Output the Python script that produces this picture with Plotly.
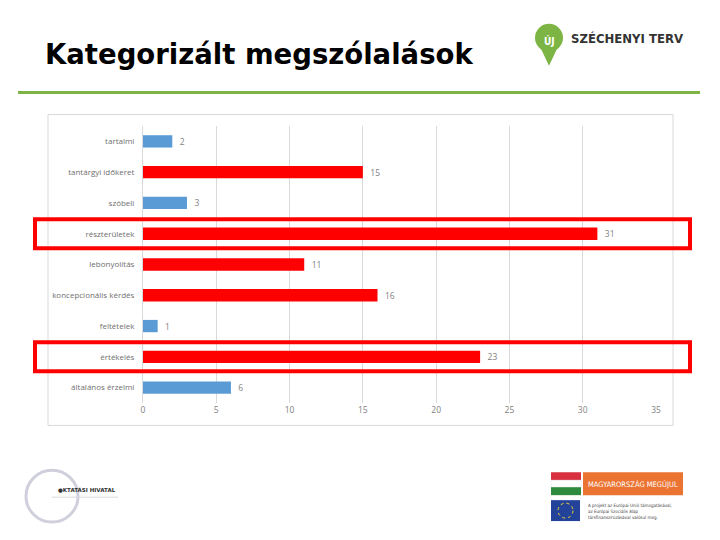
import plotly.graph_objects as go

categories = ["tartalmi", "tantárgyi időkeret", "szóbeli", "részterületek", "lebonyolítás",
              "koncepcionális kérdés", "feltételek", "értékelés", "általános érzelmi"]
values = [2, 15, 3, 31, 11, 16, 1, 23, 6]
highlight = [False, True, False, True, True, True, False, True, False]
boxed = ["részterületek", "értékelés"]
x_ticks = [0, 5, 10, 15, 20, 25, 30, 35]

BLUE = "#5B9BD5"
RED = "#FF0000"
colors = [RED if h else BLUE for h in highlight]

W, H = 720, 540
OFF = 8  # page body margin
L, R = 143 - OFF, 656 - OFF
T, B = 125.5 - OFF, 403.5 - OFF

def px(x):
    return (x - OFF - L) / (R - L)

def py(y):
    return (B - (y - OFF)) / (B - T)

fig = go.Figure()
fig.add_trace(go.Bar(
    y=categories, x=values, orientation="h",
    marker=dict(color=colors, line=dict(width=0)),
    width=0.4,
    text=["  " + str(v) for v in values], textposition="outside",
    textfont=dict(family="Open Sans", size=8.5, color="#7f7f7f"),
    cliponaxis=False, hoverinfo="skip",
))

shapes = []
shapes.append(dict(type="rect", xref="paper", yref="paper", x0=px(48), x1=px(673), y0=py(114), y1=py(426),
                   line=dict(color="#d9d9d9", width=1), layer="below"))
shapes.append(dict(type="line", xref="paper", yref="paper", x0=px(18), x1=px(700), y0=py(92), y1=py(92),
                   line=dict(color="#7DB544", width=3)))
for c in boxed:
    i = categories.index(c)
    shapes.append(dict(type="rect", xref="paper", yref="y", x0=px(35), x1=px(690), y0=i - 0.47, y1=i + 0.47,
                       line=dict(color=RED, width=4)))
# Széchenyi logo pin
shapes.append(dict(type="path", xref="paper", yref="paper",
                   path=f"M {px(540)} {py(46)} L {px(558)} {py(46)} L {px(549)} {py(65)} Z",
                   fillcolor="#7DB544", line=dict(width=0)))
shapes.append(dict(type="circle", xref="paper", yref="paper", x0=px(535), x1=px(563), y0=py(23), y1=py(51),
                   fillcolor="#7DB544", line=dict(width=0)))
# Oktatási Hivatal logo
shapes.append(dict(type="circle", xref="paper", yref="paper", x0=px(26), x1=px(78), y0=py(471), y1=py(523),
                   line=dict(color="#d0d0dc", width=3)))
shapes.append(dict(type="line", xref="paper", yref="paper", x0=px(52), x1=px(118), y0=py(498), y1=py(498),
                   line=dict(color="#d8d8e0", width=1)))
# Hungarian flag + orange box
shapes.append(dict(type="rect", xref="paper", yref="paper", x0=px(551), x1=px(581), y0=py(481), y1=py(473),
                   fillcolor="#D8303F", line=dict(width=0)))
shapes.append(dict(type="rect", xref="paper", yref="paper", x0=px(551), x1=px(581), y0=py(488), y1=py(481),
                   fillcolor="#ffffff", line=dict(color="#e0e0e0", width=0.5)))
shapes.append(dict(type="rect", xref="paper", yref="paper", x0=px(551), x1=px(581), y0=py(496), y1=py(488),
                   fillcolor="#2E8B3E", line=dict(width=0)))
shapes.append(dict(type="rect", xref="paper", yref="paper", x0=px(583), x1=px(683), y0=py(496), y1=py(473),
                   fillcolor="#EC7432", line=dict(width=0)))
# EU flag
shapes.append(dict(type="rect", xref="paper", yref="paper", x0=px(551), x1=px(580), y0=py(522), y1=py(501),
                   fillcolor="#23439A", line=dict(width=0)))
shapes.append(dict(type="circle", xref="paper", yref="paper", x0=px(558), x1=px(573), y0=py(504), y1=py(519),
                   line=dict(color="#F2D230", width=1, dash="dot")))

annotations = [
    dict(text="<b>Kategorizált megszólalások</b>", xref="paper", yref="paper", x=px(43), y=py(53),
         xanchor="left", yanchor="middle", showarrow=False,
         font=dict(family="DejaVu Sans", size=27.5, color="#000000")),
    dict(text="<b>ÚJ</b>", xref="paper", yref="paper", x=px(549), y=py(40), xanchor="center", yanchor="middle",
         showarrow=False, font=dict(family="DejaVu Sans Condensed", size=10, color="#ffffff")),
    dict(text="<b>SZÉCHENYI TERV</b>", xref="paper", yref="paper", x=px(569), y=py(38),
         xanchor="left", yanchor="middle", showarrow=False,
         font=dict(family="DejaVu Sans Condensed", size=13, color="#333333")),
    dict(text="<b>●KTATÁSI HIVATAL</b>", xref="paper", yref="paper", x=px(56), y=py(490),
         xanchor="left", yanchor="middle", showarrow=False,
         font=dict(family="DejaVu Sans", size=5.5, color="#333333")),
    dict(text="MAGYARORSZÁG MEGÚJUL", xref="paper", yref="paper", x=px(633), y=py(485),
         xanchor="center", yanchor="middle", showarrow=False,
         font=dict(family="DejaVu Sans Condensed", size=7.5, color="#ffffff")),
    dict(text="A projekt az Európai Unió támogatásával,<br>az Európai Szociális Alap<br>társfinanszírozásával valósul meg.",
         xref="paper", yref="paper", x=px(586), y=py(512), xanchor="left", yanchor="middle", align="left",
         showarrow=False, font=dict(family="DejaVu Sans Condensed", size=4.5, color="#444444")),
]

fig.update_layout(
    width=W, height=H,
    margin=dict(l=L, r=W - R, t=T, b=H - B),
    paper_bgcolor="#ffffff", plot_bgcolor="#ffffff",
    showlegend=False, bargap=0.6,
    shapes=shapes, annotations=annotations,
    xaxis=dict(range=[0, 35], tickvals=x_ticks, showgrid=True, gridcolor="#d9d9d9", gridwidth=1,
               zeroline=False, showline=False, ticks="",
               tickfont=dict(family="Open Sans", size=8.5, color="#7f7f7f")),
    yaxis=dict(categoryorder="array", categoryarray=categories, autorange="reversed",
               showgrid=False, zeroline=False, showline=True, linecolor="#d9d9d9", ticks="",
               ticklabelstandoff=6,
               tickfont=dict(family="Open Sans", size=8, color="#6f6f6f")),
)

fig.write_html("out.html")
